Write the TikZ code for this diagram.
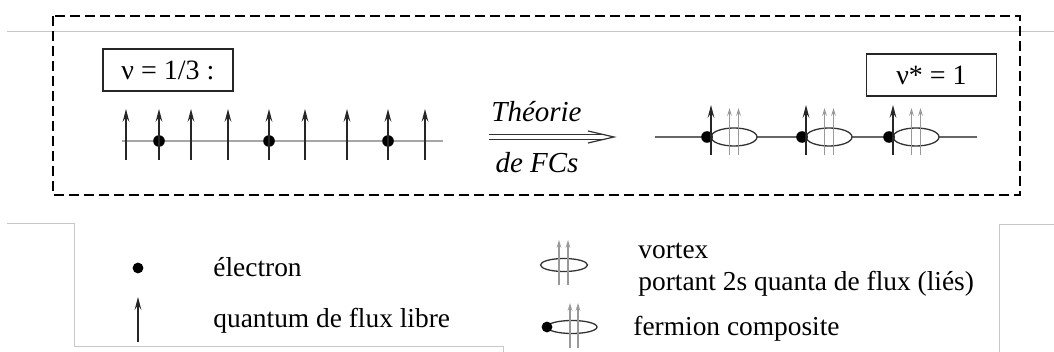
\documentclass[tikz,border=0pt]{standalone}
\usepackage{fontspec}
\setmainfont{Liberation Serif}
\usetikzlibrary{arrows.meta}

\begin{document}
\begin{tikzpicture}[x=0.5pt,y=-0.5pt,
  >={Stealth[length=6.5pt,width=3.4pt,inset=2.5pt]},
  fl/.style={->,line width=0.65pt,draw=black!85},
  fg/.style={-{Stealth[length=4pt,width=2.4pt,inset=1.5pt]},line width=0.6pt,draw=black!40},
  boucle/.style={draw=black!80,line width=0.65pt,fill=white},
  txt/.style={anchor=base west,inner sep=0pt,font=\fontsize{13.7}{16}\selectfont},
  lab/.style={anchor=base,inner sep=0pt,font=\fontsize{14.5}{17}\selectfont\itshape},
  cadre/.style={draw=black!85,line width=0.75pt,minimum width=65pt,minimum height=21pt,inner sep=0pt,font=\fontsize{14}{16}\selectfont},
  page/.style={draw=black!22,line width=0.5pt}]
\useasboundingbox (0,0) rectangle (1054,352);

% traits de la page
\draw[page] (7,32) -- (1054,32);
\draw[page] (7,224) -- (74,224) -- (74,346) -- (503,346) -- (503,352);
\draw[page] (999,352) -- (999,225) -- (1054,225);

\draw[line width=1pt, dash pattern=on 5pt off 2.5pt] (53,16) rectangle (1020,195);

\node[cadre] (nu) at (168,70) {ν = 1/3 :};
\node[cadre] (nuet) at (931.5,75) {ν* = 1};

% nu = 1/3
\draw[black!35,line width=0.75pt] (122,141) -- (443,141);
\foreach \x in {159,269,388}
  \fill (\x,141) circle (2.9pt);
\foreach \x in {126,159,191,228,269,305,347,388,425}
  \draw[fl] (\x,160) -- (\x,109);

% theorie de FCs
\coordinate (gA) at (489,137);
\coordinate (gB) at (604,137);
\coordinate (gT) at (614,137);
\draw[black!80,line width=0.5pt,double distance=1.8pt] (gA) -- (gB);
\draw[black!80,line width=0.6pt] (588,131) -- (gT) -- (588,143);
\node[lab] (theo) at (536.5,122) {Théorie};
\node[lab] (fcs) at (537,173) {de FCs};

% nu* = 1
\draw[black!60,line width=0.6pt] (655,137) -- (977,137);
\foreach \c in {734,829,916} {
  \draw[boucle] (\c,137) ellipse [x radius=23, y radius=9];
  \fill (\c-27,137) circle (2.9pt);
  \draw[fg] (\c-4.5,155) -- (\c-4.5,108);
  \draw[fg] (\c+4.5,155) -- (\c+4.5,108);
  \draw[fl] (\c-23,155) -- (\c-23,105);
}

% legende
\fill (138,268) circle (2.7pt);
\node[txt] (el) at (213,277) {électron};
\draw[fl] (138,342) -- (138,297);
\node[txt] (ql) at (213,327) {quantum de flux libre};

\draw[boucle] (564,265) ellipse [x radius=23.5, y radius=6.5];
\draw[fg] (559,285) -- (559,240);
\draw[fg] (568,285) -- (568,240);
\node[txt] (vx) at (638,258) {vortex};
\node[txt] (po) at (638,290) {portant 2s quanta de flux (liés)};

\draw[boucle] (572,327) ellipse [x radius=25, y radius=6.5];
\fill (547,327) circle (2.7pt);
\draw[fg] (570,348) -- (570,303);
\draw[fg] (578,348) -- (578,303);
\node[txt] (fc) at (633,335) {fermion composite};
\end{tikzpicture}
\end{document}
